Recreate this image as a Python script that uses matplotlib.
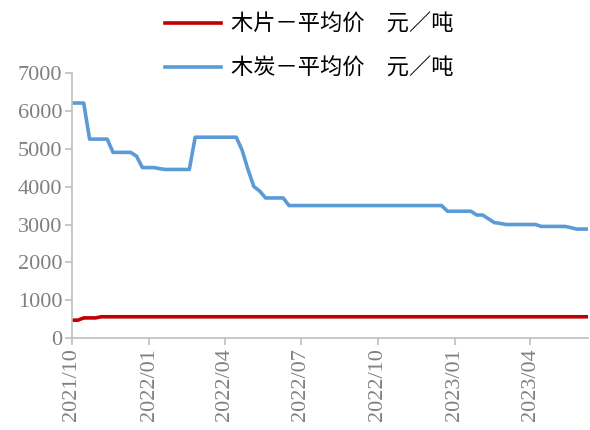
import numpy as np
import pandas as pd
import matplotlib
matplotlib.use("Agg")
import matplotlib.pyplot as plt
import matplotlib.dates as mdates

# 周度数据, 2021-10-01 起
dates = pd.date_range("2021-10-01", periods=89, freq="7D")

# 木片-平均价 (元/吨)
wood_chip = [480, 480, 540, 540, 540] + [570] * 84

# 木炭-平均价 (元/吨)
charcoal = ([6200] * 3 + [5250] * 4 + [4900] * 4 + [4800]
            + [4500] * 3 + [4470] + [4450] * 5 + [5300] * 8
            + [4960, 4450, 4000, 3880] + [3700] * 4 + [3500] * 27
            + [3350] * 5 + [3250] * 2 + [3150, 3050, 3030]
            + [3000] * 6 + [2950] * 5 + [2920] + [2880] * 3)

tick_dates = pd.to_datetime(["2021-10-01", "2022-01-01", "2022-04-01", "2022-07-01",
                             "2022-10-01", "2023-01-01", "2023-04-01"])
tick_labels = ["2021/10", "2022/01", "2022/04", "2022/07", "2022/10", "2023/01", "2023/04"]
y_ticks = list(range(0, 7001, 1000))

plt.rcParams["font.family"] = ["Noto Sans CJK SC", "DejaVu Sans"]

fig = plt.figure(figsize=(5.9, 4.3), dpi=100)
ax = fig.add_axes([0.122, 0.213, 0.875, 0.618])

l1, = ax.plot(dates, wood_chip, color="#C00000", lw=2.6, label="木片－平均价　元／吨")
l2, = ax.plot(dates, charcoal, color="#5B9BD5", lw=2.6, label="木炭－平均价　元／吨")

ax.set_xlim(dates[0], dates[-1])
ax.set_ylim(0, 7000)
ax.set_yticks(y_ticks)
ax.set_xticks(tick_dates)
ax.set_xticklabels(tick_labels, rotation=90)

grey = "#808080"
for lab in ax.get_xticklabels() + ax.get_yticklabels():
    lab.set_fontfamily("Liberation Serif")
    lab.set_fontsize(16)
    lab.set_color(grey)

ax.tick_params(axis="both", color="#BFBFBF", length=5, width=1.2, pad=2)
for side in ["top", "right"]:
    ax.spines[side].set_visible(False)
for side in ["left", "bottom"]:
    ax.spines[side].set_color("#BFBFBF")
    ax.spines[side].set_linewidth(1.2)

fig.legend(handles=[l1, l2], loc="center left", bbox_to_anchor=(0.28, 0.893),
           ncol=1, frameon=False, fontsize=16, handlelength=2.5,
           handletextpad=0.45, labelspacing=0.95, borderpad=0, borderaxespad=0)

fig.savefig("out.png", dpi=100)
